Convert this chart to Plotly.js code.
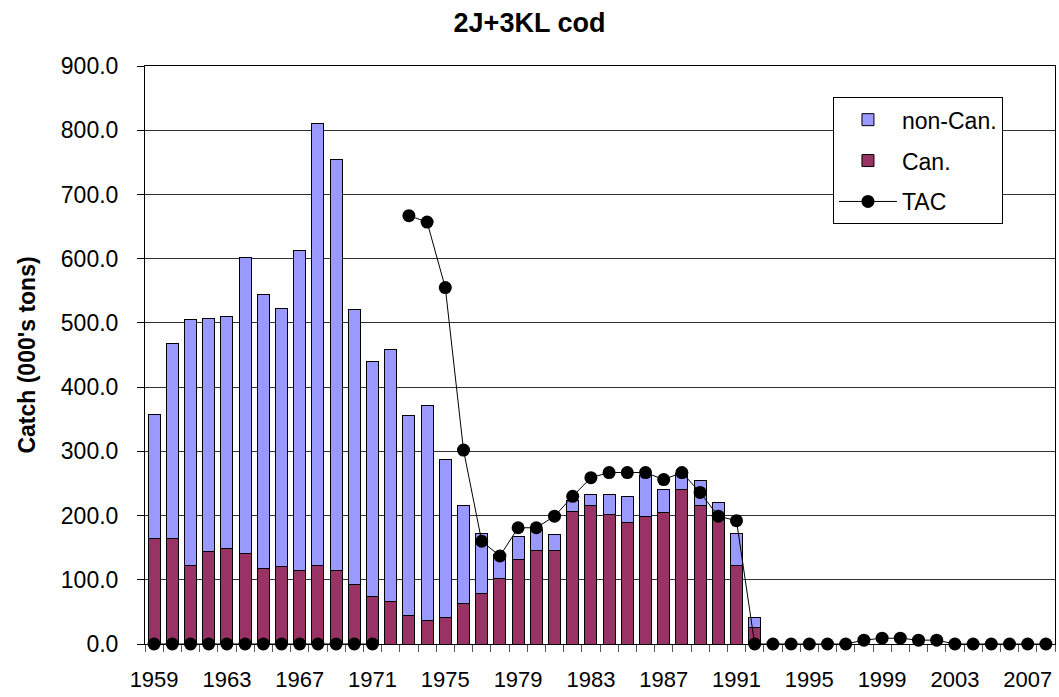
<!DOCTYPE html>
<html>
<head>
<meta charset="utf-8">
<script src="https://cdn.plot.ly/plotly-3.0.1.min.js"></script>
<style>html,body{margin:0;padding:0;background:#fff;}#chart{width:1059px;height:697px;}</style>
</head>
<body>
<div id="chart"></div>
<script>
const years = [1959,1960,1961,1962,1963,1964,1965,1966,1967,1968,1969,1970,1971,1972,1973,1974,1975,1976,1977,1978,1979,1980,1981,1982,1983,1984,1985,1986,1987,1988,1989,1990,1991,1992,1993,1994,1995,1996,1997,1998,1999,2000,2001,2002,2003,2004,2005,2006,2007,2008];
// total catch (000's t)
const totalCatch = [358,468,505,507,510,602,544,523,612,811,754,521,440,458,356,371,288,215,172,139,167,178,170,224,233,233,229,263,241,265,254,221,172,42,0,0,0,0,0,0,0,0,0,0,0,0,0,0,0,0];
// Canadian catch (000's t)
const canCatch = [165,165,123,144,149,141,118,120,115,123,115,92,74,66,45,37,42,63,79,102,131,146,146,207,215,202,189,199,205,241,215,196,123,26,0,0,0,0,0,0,0,0,0,0,0,0,0,0,0,0];
// TAC (000's t)
const tac = [0,0,0,0,0,0,0,0,0,0,0,0,0,null,667,657,555,302,160,137,181,181,199,230,259,267,267,267,256,267,236,199,192,0,0,0,0,0,0,6,9,9,6,6,0,0,0,0,0,0];
const nonCanCatch = totalCatch.map((t, i) => Math.max(0, t - canCatch[i]));
const xTicks = [1959,1963,1967,1971,1975,1979,1983,1987,1991,1995,1999,2003,2007];

const FONT = "Liberation Sans, Arial, sans-serif";
const traces = [
  {type:'bar', name:'Can.', x:years, y:canCatch, legendrank:2, legendgroup:'b',
   marker:{color:'#993366', line:{color:'#000', width:1}}},
  {type:'bar', name:'non-Can.', x:years, y:nonCanCatch, legendrank:1, legendgroup:'a',
   marker:{color:'#9999FF', line:{color:'#000', width:1}}},
  {type:'scatter', mode:'lines+markers', name:'TAC', x:years, y:tac, legendrank:3, legendgroup:'c',
   connectgaps:false, cliponaxis:false, line:{color:'#000', width:1}, marker:{color:'#000', size:13}}
];
const layout = {
  width:1059, height:697,
  margin:{l:145, r:4, t:66, b:53},
  paper_bgcolor:'#fff', plot_bgcolor:'#fff',
  font:{family:FONT, color:'#000', size:23},
  barmode:'stack', bargap:0.35,
  title:{text:'<b>2J+3KL cod</b>', font:{family:FONT, size:27, color:'#000'}, x:0.5, xanchor:'center', xref:'container', y:0.968, yanchor:'middle', yref:'container'},
  xaxis:{type:'linear', range:[1958.5, 2008.5], tickmode:'array', tickvals:xTicks,
    ticks:'', ticklen:8, ticklabelstandoff:16, showgrid:false, zeroline:false,
    showline:true, linecolor:'#000', linewidth:1, mirror:true,
    tickfont:{family:FONT, size:22, color:'#000'},
    minor:{tickmode:'linear', tick0:1958.5, dtick:1, ticks:'outside', ticklen:7, tickcolor:'#555', showgrid:false}},
  yaxis:{range:[0,900], tickmode:'linear', tick0:0, dtick:100, tickformat:'.1f',
    ticks:'outside', ticklen:7, tickcolor:'#000', ticklabelstandoff:14, showgrid:true, gridcolor:'#333', gridwidth:1,
    zeroline:false, showline:true, linecolor:'#000', linewidth:1, mirror:true,
    tickfont:{family:FONT, size:23, color:'#000'},
    title:{text:"<b>Catch (000's tons)</b>", font:{family:FONT, size:23, color:'#000'}, standoff:18}},
  showlegend:true,
  legend:{x:0.756, y:0.946, xanchor:'left', yanchor:'top', bgcolor:'#fff', bordercolor:'#000', borderwidth:1,
    itemwidth:58, traceorder:'grouped', tracegroupgap:8, font:{family:FONT, size:23, color:'#000'}}
};
Plotly.newPlot('chart', traces, layout, {displayModeBar:false, staticPlot:true});
</script>
</body>
</html>
